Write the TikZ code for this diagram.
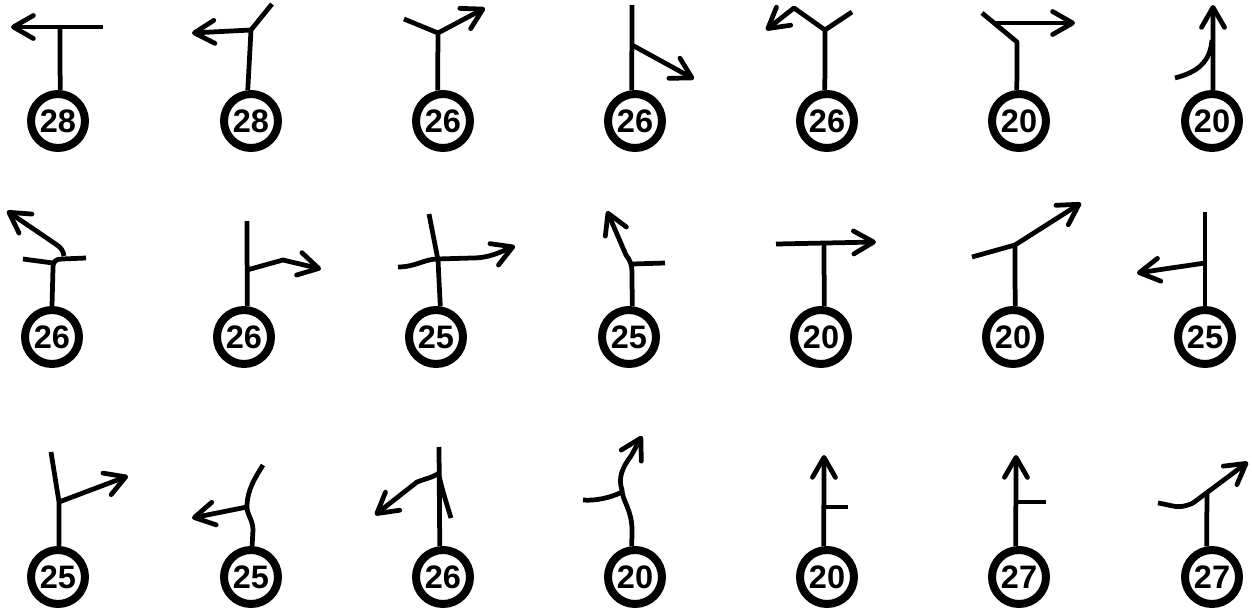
\documentclass[tikz,border=0pt]{standalone}
\usepackage{fontspec}
\setmainfont{Liberation Sans}
\usepackage{tikz}
\usetikzlibrary{arrows.meta}

\begin{document}
\begin{tikzpicture}[
    x=0.02cm, y=-0.02cm,
    every node/.style={font=\fontsize{18.5}{20}\selectfont\bfseries},
    sign/.style={circle, draw, fill=white, line width=0.16cm, minimum size=1.08cm, inner sep=0pt},
    lane/.style={line width=0.095cm, line join=round},
    arr/.style={lane, -{Straight Barb[length=0.4cm, width=0.46cm, round]}},
]
\useasboundingbox (0,0) rectangle (1252,609);

% Row 1
\node[sign] (a1) at (58,121) {28};
\draw[lane] (a1.86) -- (60,27);
\draw[arr] (103,27) -- (11,27);

\node[sign] (a2) at (251,121) {28};
\draw[lane] (a2.96) -- (251,30) -- (272,4);
\draw[arr] (251,30) -- (192,33);

\node[sign] (a3) at (443,121) {26};
\draw[lane] (a3.100) -- (438,33) -- (404,19);
\draw[arr] (438,33) -- (485,8);

\node[sign] (a4) at (635,121) {26};
\draw[lane] (a4.96) -- (632,5);
\draw[arr] (632,45) -- (694,79);

\node[sign] (a5) at (827,121) {26};
\draw[lane] (a5.94) -- (825,30) -- (852,12);
\draw[arr] (825,30) -- (794,8) -- (766,30);

\node[sign] (a6) at (1019,121) {20};
\draw[lane] (a6.94) -- (1017,42) -- (982,13);
\draw[arr] (995,23) -- (1075,23);

\node[sign] (a7) at (1212,121) {20};
\draw[arr] (a7.88) -- (1213,5);
\draw[lane] (1175,78) .. controls (1198,72) and (1210,62) .. (1212,40);

% Row 2
\node[sign] (b1) at (52,337) {26};
\draw[lane] (23,259) -- (53,263);
\draw[lane] (b1.90) -- (53,268) .. controls (53,261) and (56,259) .. (62,259) -- (86,258);
\draw[arr] (64,256) .. controls (63,250) and (61,248) .. (57,245) -- (7,211);

\node[sign] (b2) at (244,337) {26};
\draw[lane] (b2.84) -- (247,221);
\draw[arr] (247,270) -- (283,260) -- (321,269);

\node[sign] (b3) at (436,337) {25};
\draw[lane] (b3.82) -- (438,260) -- (429,214);
\draw[arr] (398,267) .. controls (415,267) and (425,259) .. (437,259) -- (472,258) .. controls (490,258) and (500,252) .. (515,246);

\node[sign] (b4) at (629,337) {25};
\draw[arr] (b4.84) -- (632,272) .. controls (632,265) and (630,260) .. (626,255) -- (607,211);
\draw[lane] (632,264) -- (665,263);

\node[sign] (b5) at (821,337) {20};
\draw[lane] (b5.84) -- (824,244);
\draw[arr] (776,244) -- (876,242);

\node[sign] (b6) at (1013,337) {20};
\draw[lane] (b6.86) -- (1015,245) -- (972,257);
\draw[arr] (1015,245) -- (1081,203);

\node[sign] (b7) at (1205,337) {25};
\draw[lane] (b7.90) -- (1205,212);
\draw[arr] (1205,263) -- (1137,273);

% Row 3
\node[sign] (c1) at (58,577) {25};
\draw[lane] (c1.88) -- (59,502) -- (51,452);
\draw[arr] (59,502) -- (128,476);

\node[sign] (c2) at (251,577) {25};
\draw[lane] (c2.88) -- (253,530) .. controls (253,520) and (247,515) .. (247,507) .. controls (247,490) and (255,478) .. (263,465);
\draw[arr] (247,507) -- (192,518);

\node[sign] (c3) at (443,577) {26};
\draw[lane] (c3.96) -- (439,447);
\draw[lane] (439,476) .. controls (443,492) .. (451,518);
\draw[arr] (439,473) .. controls (432,478) and (424,479) .. (417,482) -- (375,515);

\node[sign] (c4) at (635,577) {20};
\draw[arr] (c4.96) -- (632,530) .. controls (632,510) and (622,500) .. (622,490) .. controls (618,478) and (622,468) .. (631,456) -- (642,436);
\draw[lane] (583,500) .. controls (595,501) and (610,498) .. (622,492);

\node[sign] (c5) at (827,577) {20};
\draw[arr] (c5.96) -- (824,455);
\draw[lane] (824,507) -- (848,507);

\node[sign] (c6) at (1019,577) {27};
\draw[arr] (c6.96) -- (1016,455);
\draw[lane] (1016,502) -- (1046,502);

\node[sign] (c7) at (1212,577) {27};
\draw[lane] (c7.100) -- (1207,493);
\draw[arr] (1158,503) .. controls (1172,505) and (1178,510) .. (1193,503) -- (1248,462);

\end{tikzpicture}
\end{document}
